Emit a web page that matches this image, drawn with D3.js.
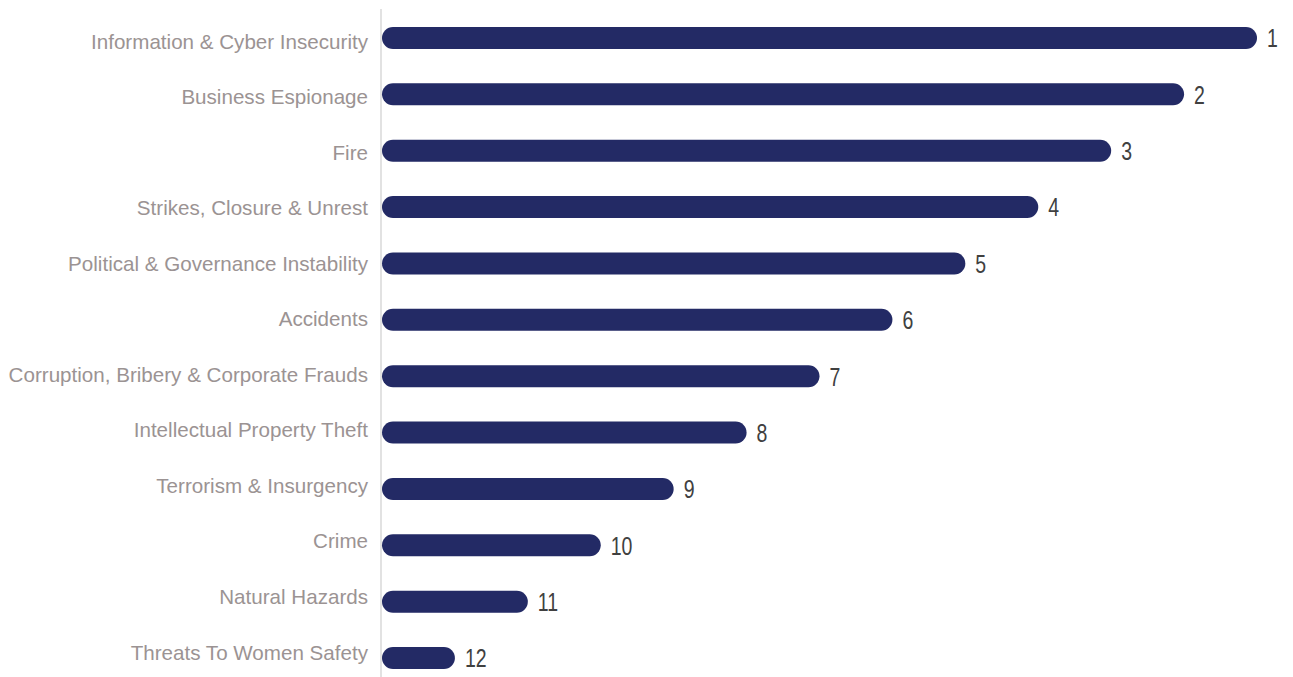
<!DOCTYPE html>
<html>
<head>
<meta charset="utf-8">
<script src="https://cdn.jsdelivr.net/npm/d3@7"></script>
<style>
  body { margin: 0; background: #fff; }
  svg { display: block; }
  .cat { font-family: Arial, "Liberation Sans", sans-serif; }
  .rank { font-family: Arial, "Liberation Sans", sans-serif; }
</style>
</head>
<body>
<svg id="chart" width="1293" height="677"></svg>
<script>
// Risk categories, ordered by rank
const categories = [
  "Information & Cyber Insecurity",
  "Business Espionage",
  "Fire",
  "Strikes, Closure & Unrest",
  "Political & Governance Instability",
  "Accidents",
  "Corruption, Bribery & Corporate Frauds",
  "Intellectual Property Theft",
  "Terrorism & Insurgency",
  "Crime",
  "Natural Hazards",
  "Threats To Women Safety"
];
// Rank shown at the end of each bar
const ranks = [1, 2, 3, 4, 5, 6, 7, 8, 9, 10, 11, 12];
// Bar score (higher rank = longer bar)
const scores = [12, 11, 10, 9, 8, 7, 6, 5, 4, 3, 2, 1];

const data = categories.map((c, i) => ({ cat: c, rank: ranks[i], score: scores[i] }));

const svg = d3.select("#chart");
const x0 = 382;

const x = d3.scaleLinear().domain([0, 12]).range([x0, 1257]);
const y = d3.scaleBand().domain(categories).range([10, 686]).paddingInner(0.61).paddingOuter(0.3);
// category labels sit on a slightly tighter grid than the bars
const yLabel = d3.scalePoint().domain(categories).range([41, 652]);

// vertical baseline
svg.append("line")
  .attr("x1", x0 - 1).attr("x2", x0 - 1)
  .attr("y1", 9).attr("y2", 677)
  .attr("stroke", "#d9d9d9").attr("stroke-width", 1.5);

const h = y.bandwidth();

svg.append("g").selectAll("rect")
  .data(data).join("rect")
  .attr("x", x(0))
  .attr("y", d => y(d.cat))
  .attr("width", d => x(d.score) - x(0))
  .attr("height", h)
  .attr("rx", h / 2).attr("ry", h / 2)
  .attr("fill", "#232a65");

// category labels
svg.append("g").selectAll("text")
  .data(data).join("text")
  .attr("class", "cat")
  .attr("x", 368)
  .attr("y", d => yLabel(d.cat))
  .attr("text-anchor", "end")
  .attr("dominant-baseline", "central")
  .attr("font-size", 20.6)
  .attr("fill", "#9b9393")
  .text(d => d.cat);

// rank labels, horizontally condensed
svg.append("g").selectAll("text")
  .data(data).join("text")
  .attr("class", "rank")
  .attr("transform", d => `translate(${x(d.score) + 10},${y(d.cat) + h / 2 + 1}) scale(0.78,1)`)
  .attr("dominant-baseline", "central")
  .attr("font-size", 25)
  .attr("fill", "#404040")
  .text(d => d.rank);
</script>
</body>
</html>
